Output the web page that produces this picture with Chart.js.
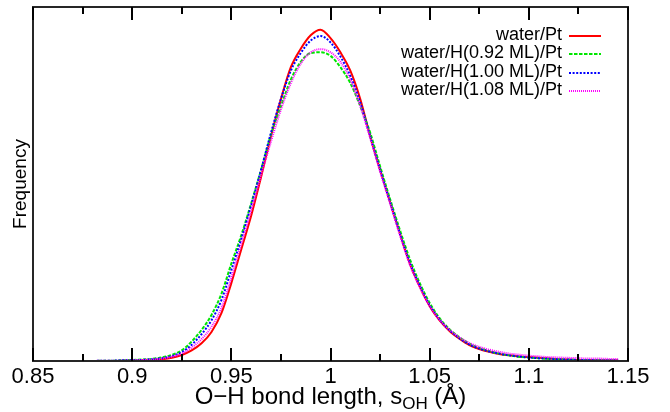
<!DOCTYPE html>
<html>
<head>
<meta charset="utf-8">
<script src="https://cdn.jsdelivr.net/npm/chart.js@4/dist/chart.umd.min.js"></script>
<style>
html,body{margin:0;padding:0;background:#fff;}
#wrap{width:670px;height:412px;}
</style>
</head>
<body>
<div id="wrap"><canvas id="c" width="670" height="412"></canvas></div>
<script>
// ---- data ----
const bondLength = [0.855,0.86,0.865,0.87,0.875,0.88,0.885,0.89,0.895,0.9,0.905,0.91,0.915,0.92,0.925,0.93,0.935,0.94,0.945,0.95,0.955,0.96,0.965,0.97,0.975,0.98,0.985,0.99,0.995,1.0,1.005,1.01,1.015,1.02,1.025,1.03,1.035,1.04,1.045,1.05,1.055,1.06,1.065,1.07,1.075,1.08,1.085,1.09,1.095,1.1,1.105,1.11,1.115,1.12,1.125,1.13,1.135,1.14,1.145];

const waterPt = [0,0,0,0,0,0,0,0,0.0005,0.001,0.002,0.003,0.005,0.009,0.017,0.03,0.05,0.082,0.135,0.22,0.315,0.41,0.52,0.635,0.74,0.83,0.882,0.92,0.936,0.912,0.872,0.82,0.74,0.635,0.54,0.45,0.36,0.275,0.21,0.155,0.115,0.085,0.063,0.045,0.034,0.026,0.02,0.016,0.013,0.011,0.009,0.007,0.005,0.004,0.003,0.003,0.002,0.002,0.002];

const waterH092 = [0,0,0,0,0,0,0.001,0.001,0.002,0.003,0.004,0.006,0.01,0.017,0.03,0.055,0.088,0.13,0.19,0.275,0.355,0.445,0.54,0.64,0.72,0.795,0.845,0.87,0.872,0.862,0.83,0.785,0.72,0.645,0.55,0.458,0.37,0.288,0.22,0.164,0.121,0.09,0.067,0.049,0.037,0.028,0.021,0.016,0.012,0.01,0.008,0.006,0.005,0.004,0.003,0.003,0.002,0.002,0.002];

const waterH100 = [0,0,0,0,0,0,0.001,0.001,0.002,0.002,0.003,0.005,0.008,0.014,0.025,0.046,0.076,0.115,0.172,0.257,0.345,0.44,0.54,0.645,0.74,0.82,0.87,0.905,0.918,0.9,0.86,0.805,0.73,0.635,0.54,0.45,0.36,0.278,0.213,0.158,0.117,0.087,0.064,0.047,0.035,0.027,0.021,0.016,0.013,0.01,0.008,0.007,0.005,0.004,0.003,0.003,0.002,0.002,0.002];

const waterH108 = [0,0,0,0,0,0,0.001,0.001,0.001,0.002,0.003,0.004,0.007,0.012,0.021,0.038,0.062,0.097,0.15,0.235,0.33,0.425,0.525,0.62,0.71,0.785,0.84,0.872,0.881,0.872,0.845,0.795,0.72,0.63,0.535,0.445,0.355,0.272,0.208,0.155,0.116,0.088,0.067,0.051,0.04,0.032,0.026,0.021,0.018,0.015,0.013,0.011,0.01,0.009,0.008,0.007,0.007,0.006,0.006];

const seriesLabels = ['water/Pt','water/H(0.92 ML)/Pt','water/H(1.00 ML)/Pt','water/H(1.08 ML)/Pt'];
const xTickValues = [0.85,0.9,0.95,1,1.05,1.1,1.15];
const xTickLabels = ['0.85','0.9','0.95','1','1.05','1.1','1.15'];
const xMinorTickValues = [0.875,0.925,0.975,1.025,1.075,1.125];

// ---- chart ----
const FONT = "'Liberation Sans', Arial, Helvetica, sans-serif";
const pts = arr => bondLength.map((x, i) => ({x: x, y: arr[i]}));

const styles = [
  {color:'#ff0000', dash:[], width:2},
  {color:'#00e600', dash:[3.5,1.5], width:2},
  {color:'#0000ff', dash:[2,1.6], width:2},
  {color:'#ff00ff', dash:[1,1], width:2}
];
const seriesData = [waterPt, waterH092, waterH100, waterH108];

const datasets = seriesData.map((arr, i) => ({
  label: seriesLabels[i],
  data: pts(arr),
  borderColor: styles[i].color,
  borderDash: styles[i].dash,
  borderWidth: styles[i].width,
  pointRadius: 0,
  fill: false,
  cubicInterpolationMode: 'monotone',
  order: 4 - i
}));

const decorPlugin = {
  id: 'decor',
  afterDraw(chart) {
    const ctx = chart.ctx, a = chart.chartArea, xs = chart.scales.x;
    ctx.save();
    ctx.setLineDash([]);

    // frame
    ctx.fillStyle = '#262626';
    const L = Math.round(a.left), R = Math.round(a.right), T = Math.round(a.top), B = Math.round(a.bottom);
    ctx.fillRect(L - 1, T - 1, R - L + 2, 2);
    ctx.fillRect(L - 1, B - 1, R - L + 2, 2);
    ctx.fillRect(L - 1, T - 1, 2, B - T + 2);
    ctx.fillRect(R - 1, T - 1, 2, B - T + 2);

    // legend (text right, sample line to its right)
    ctx.font = '18px ' + FONT;
    ctx.textAlign = 'right';
    ctx.textBaseline = 'middle';
    chart.data.datasets.forEach((ds, i) => {
      const y = Math.round(35 + i * 18.3);
      ctx.fillStyle = '#000';
      ctx.fillText(ds.label, 562, y);
      ctx.beginPath();
      ctx.setLineDash(ds.borderDash);
      ctx.strokeStyle = ds.borderColor;
      ctx.lineWidth = 2;
      ctx.moveTo(569, y + 1); ctx.lineTo(601, y + 1);
      ctx.stroke();
      ctx.setLineDash([]);
    });

    // x-axis title with subscript
    const main1 = 'O\u2212H bond length, s';
    const sub = 'OH';
    const main2 = ' (\u00C5)';
    const fMain = '24px ' + FONT, fSub = '17px ' + FONT;
    ctx.textAlign = 'left';
    ctx.textBaseline = 'alphabetic';
    ctx.font = fMain; const w1 = ctx.measureText(main1).width, w3 = ctx.measureText(main2).width;
    ctx.font = fSub; const w2 = ctx.measureText(sub).width;
    const total = w1 + w2 + w3;
    const x0 = (a.left + a.right) / 2 - total / 2;
    const base = 404;
    ctx.fillStyle = '#000';
    ctx.font = fMain; ctx.fillText(main1, x0, base);
    ctx.font = fSub; ctx.fillText(sub, x0 + w1, base + 5);
    ctx.font = fMain; ctx.fillText(main2, x0 + w1 + w2, base);

    // inward ticks on bottom and top edges (drawn last)
    ctx.fillStyle = '#000000';
    xTickValues.forEach(v => {
      const px = Math.round(xs.getPixelForValue(v));
      ctx.fillRect(px - 1, a.bottom - 13, 2, 13);
      ctx.fillRect(px - 1, a.top, 2, 13);
    });
    xMinorTickValues.forEach(v => {
      const px = Math.round(xs.getPixelForValue(v));
      ctx.fillRect(px - 1, a.bottom - 7, 2, 7);
      ctx.fillRect(px - 1, a.top, 2, 7);
    });
    ctx.restore();
  }
};

new Chart(document.getElementById('c'), {
  type: 'line',
  data: { datasets: datasets },
  plugins: [decorPlugin],
  options: {
    responsive: false,
    animation: false,
    devicePixelRatio: 1,
    layout: { padding: { top: 7, right: 42, left: 0, bottom: 0 } },
    plugins: { legend: { display: false }, tooltip: { enabled: false } },
    scales: {
      x: {
        type: 'linear',
        min: 0.85, max: 1.15,
        afterBuildTicks: s => { s.ticks = xTickValues.map(v => ({value: v})); },
        afterFit: s => { s.height = 51; },
        grid: { display: false, drawTicks: false },
        border: { display: false },
        ticks: {
          color: '#000',
          padding: 3,
          maxRotation: 0,
          autoSkip: false,
          font: { family: FONT, size: 22 },
          callback: (v) => {
            const k = xTickValues.findIndex(t => Math.abs(t - v) < 1e-6);
            return k >= 0 ? xTickLabels[k] : '';
          }
        }
      },
      y: {
        min: 0, max: 1,
        afterFit: s => { s.width = 33; },
        grid: { display: false, drawTicks: false },
        border: { display: false },
        ticks: { display: false },
        title: {
          display: true,
          text: 'Frequency',
          color: '#000',
          font: { family: FONT, size: 19, lineHeight: 1.2 },
          padding: { top: 9, bottom: 0 }
        }
      }
    }
  }
});
</script>
</body>
</html>
